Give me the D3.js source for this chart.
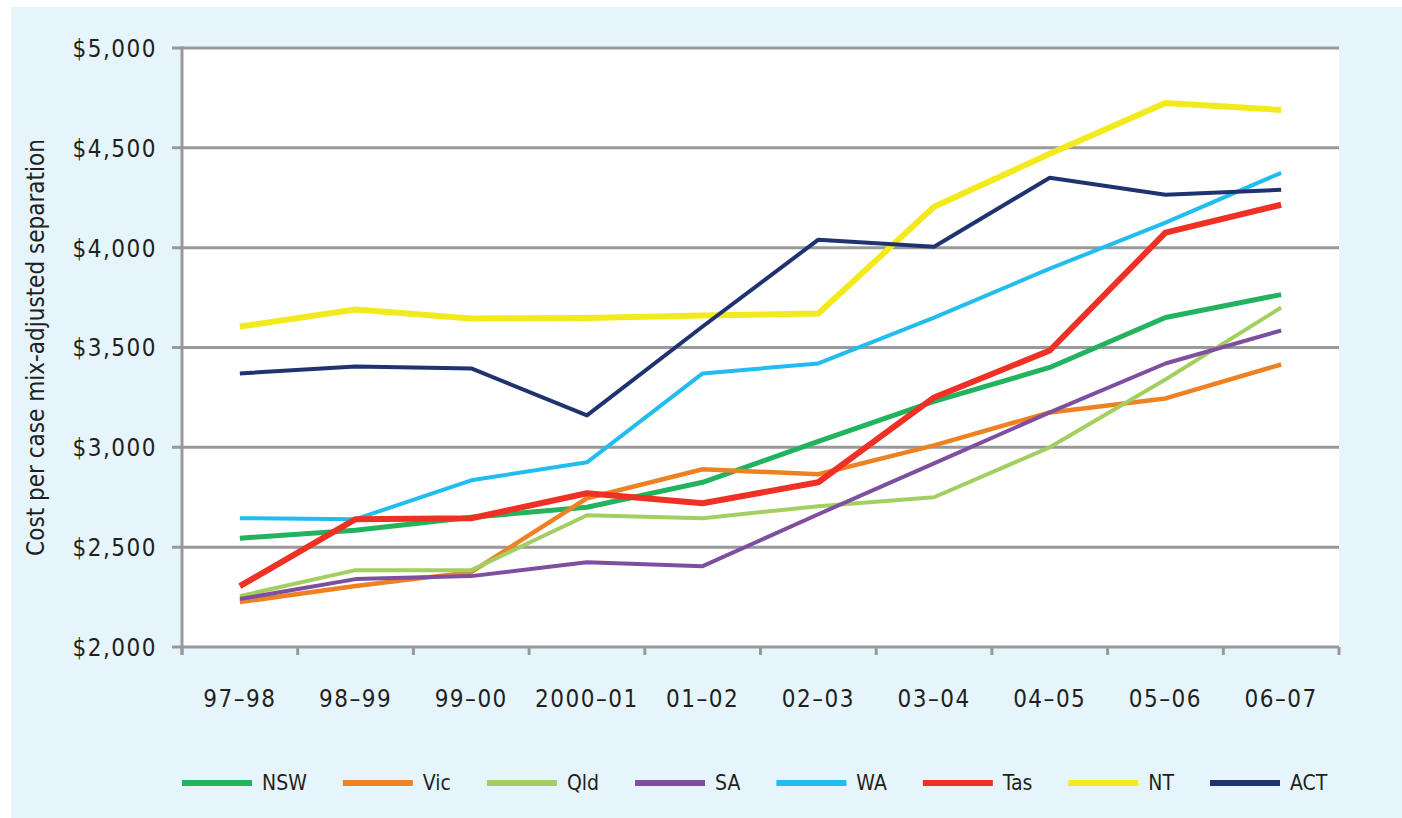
<!DOCTYPE html>
<html>
<head>
<meta charset="utf-8">
<script src="https://cdn.jsdelivr.net/npm/d3@7"></script>
<style>
  body { margin: 0; background: #fff; }
  text { font-family: "Liberation Sans Narrow", "DejaVu Sans Condensed", sans-serif; fill: #231f20; }
</style>
</head>
<body>
<div id="chart"></div>
<script>
const years = ["97–98", "98–99", "99–00", "2000–01", "01–02", "02–03", "03–04", "04–05", "05–06", "06–07"];
const yTicks = [2000, 2500, 3000, 3500, 4000, 4500, 5000];

const states = ["NSW", "Vic", "Qld", "SA", "WA", "Tas", "NT", "ACT"];
const colours = ["#22b35e", "#ee8222", "#a3cf62", "#7f4f9f", "#22bdee", "#ee3124", "#f3ea1e", "#1f3370"];
const widths = [5, 4.5, 4, 4, 4, 6, 6, 4];

const nsw = [2545, 2585, 2650, 2700, 2825, 3030, 3230, 3400, 3650, 3765];
const vic = [2225, 2305, 2375, 2745, 2890, 2865, 3010, 3175, 3245, 3415];
const qld = [2255, 2385, 2385, 2660, 2645, 2705, 2750, 3000, 3340, 3700];
const sa  = [2240, 2340, 2355, 2425, 2405, 2665, 2920, 3175, 3420, 3585];
const wa  = [2645, 2640, 2835, 2925, 3370, 3420, 3650, 3895, 4125, 4375];
const tas = [2305, 2640, 2645, 2770, 2720, 2825, 3250, 3485, 4075, 4215];
const nt  = [3605, 3690, 3645, 3648, 3660, 3670, 4205, 4470, 4725, 4690];
const act = [3370, 3405, 3395, 3160, 3605, 4040, 4005, 4350, 4265, 4290];

const seriesValues = [nsw, vic, qld, sa, wa, tas, nt, act];

const W = 1402, H = 818;
const margin = { left: 182, right: 63, top: 48, bottom: 171 };

const svg = d3.select("#chart").append("svg")
    .attr("width", W)
    .attr("height", H);

// light blue panel + white plot area
svg.append("rect")
    .attr("x", 11).attr("y", 7)
    .attr("width", W - 11).attr("height", H - 7)
    .attr("fill", "#e6f5fc");

const x = d3.scalePoint()
    .domain(years)
    .range([margin.left, W - margin.right])
    .padding(0.5);

const y = d3.scaleLinear()
    .domain([2000, 5000])
    .range([H - margin.bottom, margin.top]);

svg.append("rect")
    .attr("x", margin.left).attr("y", margin.top)
    .attr("width", W - margin.right - margin.left)
    .attr("height", y(2000) - y(5000))
    .attr("fill", "#fff");

// gridlines
svg.append("g")
    .selectAll("line")
    .data(yTicks)
    .enter()
    .append("line")
    .attr("x1", margin.left - 10)
    .attr("x2", W - margin.right)
    .attr("y1", d => y(d))
    .attr("y2", d => y(d))
    .attr("stroke", "#99999b")
    .attr("stroke-width", 3);

// y axis
const yAxis = d3.axisLeft(y)
    .tickValues(yTicks)
    .tickSize(0)
    .tickPadding(25)
    .tickFormat(d => "$" + d3.format(",")(d));

const gy = svg.append("g")
    .attr("transform", "translate(" + margin.left + ",0)")
    .call(yAxis);
gy.select(".domain").remove();
gy.selectAll("text")
    .style("font-size", "24px")
    .style("letter-spacing", "1.5px")
    .attr("dy", "0.35em");

svg.append("line")
    .attr("x1", margin.left).attr("x2", margin.left)
    .attr("y1", y(5000) - 1.5).attr("y2", y(2000) + 8)
    .attr("stroke", "#99999b")
    .attr("stroke-width", 3);

// x axis: ticks at band boundaries
const step = x.step();
const bounds = d3.range(years.length + 1).map(i => margin.left + i * step);
svg.append("g")
    .selectAll("line")
    .data(bounds)
    .enter()
    .append("line")
    .attr("x1", d => d).attr("x2", d => d)
    .attr("y1", y(2000)).attr("y2", y(2000) + 8)
    .attr("stroke", "#99999b")
    .attr("stroke-width", 3);

svg.append("g")
    .selectAll("text")
    .data(years)
    .enter()
    .append("text")
    .attr("x", d => x(d))
    .attr("y", y(2000) + 52)
    .attr("dy", "0.35em")
    .attr("text-anchor", "middle")
    .style("font-size", "24px")
    .style("letter-spacing", "1.5px")
    .text(d => d);

// y title
svg.append("text")
    .attr("transform", "translate(36," + ((y(2000) + y(5000)) / 2) + ") rotate(-90)")
    .attr("text-anchor", "middle")
    .attr("dy", "0.35em")
    .style("font-size", "24px")
    .text("Cost per case mix-adjusted separation");

// lines
const line = d3.line()
    .x((d, i) => x(years[i]))
    .y(d => y(d));

svg.append("g")
    .selectAll("path")
    .data(seriesValues)
    .enter()
    .append("path")
    .attr("d", d => line(d))
    .attr("fill", "none")
    .attr("stroke", (d, i) => colours[i])
    .attr("stroke-width", (d, i) => widths[i])
    .attr("stroke-linejoin", "round");

// legend
const legend = svg.append("g").attr("transform", "translate(182,783)");
let lx = 0;
states.forEach(function(s, i) {
    const g = legend.append("g").attr("transform", "translate(" + lx + ",0)");
    g.append("line")
        .attr("x1", 0).attr("x2", 70)
        .attr("y1", 0).attr("y2", 0)
        .attr("stroke", colours[i])
        .attr("stroke-width", 6);
    const t = g.append("text")
        .attr("x", 80)
        .attr("dy", "0.35em")
        .style("font-size", "21px")
        .text(s);
    lx += 80 + t.node().getComputedTextLength() + 36;
});
</script>
</body>
</html>
